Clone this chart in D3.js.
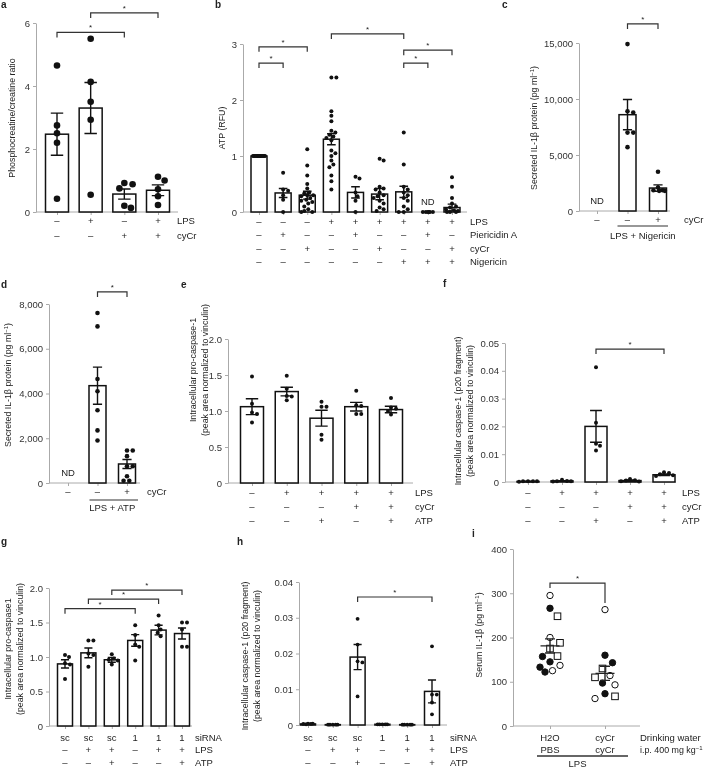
<!DOCTYPE html>
<html>
<head>
<meta charset="utf-8">
<script src="https://cdn.jsdelivr.net/npm/d3@7"></script>
<style>
  body { margin: 0; background: #fff; }
  #fig { filter: grayscale(100%); }
  svg text { font-family: "Liberation Sans", Arial, sans-serif; fill: #222; }
  .axis .domain, .axis line { stroke: #aaa; stroke-width: 1; }
  .axis text { font-size: 9.5px; fill: #333; }
</style>
</head>
<body>
<svg id="fig" width="705" height="771"></svg>
<script>
// ---- panel a : phosphocreatine/creatine ratio
var aMeans = [2.47, 3.3, 0.57, 0.69];
var aSem = [0.67, 0.81, 0.16, 0.17];
var aPoints = [[4.65, 2.75, 2.5, 2.2, 0.42], [5.5, 4.13, 3.5, 2.93, 0.55], [0.92, 0.88, 0.75, 0.2, 0.13], [1.12, 1.0, 0.72, 0.5, 0.22]];
var aSig = [[0, 2, 5.7], [1, 3, 6.32]];
var aTicks = [0, 2, 4, 6];
var aRowLabels = ["LPS", "cyCr"];
var aRowSigns = [["–", "+", "–", "+"], ["–", "–", "+", "+"]];

// ---- panel b : ATP (RFU)
var bMeans = [1.0, 0.34, 0.3, 1.3, 0.35, 0.32, 0.36, 0, 0.08];
var bSem = [0, 0.08, 0.07, 0.1, 0.1, 0.1, 0.1, 0, 0.06];
var bPoints = [
  [1, 1, 1, 1, 1, 1, 1, 1, 1, 1, 1, 1, 1, 1, 1, 1, 1, 1, 1, 1],
  [0.7, 0.4, 0.38, 0.3, 0.22, 0.0],
  [1.12, 0.83, 0.65, 0.5, 0.42, 0.35, 0.33, 0.3, 0.3, 0.28, 0.25, 0.22, 0.2, 0.18, 0.15, 0.1, 0.05, 0.02, 0.0, 0.0],
  [2.4, 2.4, 1.8, 1.72, 1.62, 1.45, 1.42, 1.38, 1.35, 1.32, 1.28, 1.1, 1.05, 1.0, 0.92, 0.85, 0.8, 0.65, 0.55, 0.4],
  [0.63, 0.6, 0.35, 0.28, 0.2, 0.0],
  [0.95, 0.92, 0.45, 0.42, 0.4, 0.35, 0.3, 0.28, 0.25, 0.2, 0.15, 0.08, 0.05, 0.02],
  [1.42, 0.85, 0.45, 0.4, 0.35, 0.3, 0.25, 0.2, 0.1, 0.05, 0.0, 0.0],
  [0, 0, 0, 0, 0, 0],
  [0.62, 0.45, 0.25, 0.15, 0.1, 0.08, 0.05, 0.03, 0.02, 0, 0, 0]
];
var bSig = [[0, 2, 2.95], [0, 1, 2.66], [3, 6, 3.18], [6, 8, 2.89], [6, 7, 2.66]];
var bTicks = [0, 1, 2, 3];
var bRowLabels = ["LPS", "Piericidin A", "cyCr", "Nigericin"];
var bRowSigns = [
  ["–", "–", "–", "+", "+", "+", "+", "+", "+"],
  ["–", "+", "–", "–", "+", "–", "–", "+", "–"],
  ["–", "–", "+", "–", "–", "+", "–", "–", "+"],
  ["–", "–", "–", "–", "–", "–", "+", "+", "+"]
];

// ---- panel c : secreted IL-1b, LPS + nigericin
var cMeans = [null, 8600, 2050];
var cSem = [0, 1350, 280];
var cPoints = [[], [14900, 8900, 8800, 7000, 7000, 5700], [3500, 2100, 1850, 1850, 1800, 1800]];
var cSig = [[1, 2, 16700]];
var cTicks = [0, 5000, 10000, 15000];
var cRowLabels = ["cyCr"];
var cRowSigns = [["–", "–", "+"]];

// ---- panel d : secreted IL-1b, LPS + ATP
var dMeans = [null, 4350, 850];
var dSem = [0, 830, 200];
var dPoints = [[], [7600, 7000, 4650, 4100, 3250, 2350, 1900], [1450, 1450, 1200, 750, 750, 300, 100, 100]];
var dSig = [[1, 2, 8540]];
var dTicks = [0, 2000, 4000, 6000, 8000];
var dRowLabels = ["cyCr"];
var dRowSigns = [["–", "–", "+"]];

// ---- panel e : pro-caspase-1
var eMeans = [1.06, 1.27, 0.9, 1.06, 1.02];
var eSem = [0.11, 0.06, 0.11, 0.06, 0.045];
var ePoints = [[1.48, 1.1, 0.98, 0.96, 0.84], [1.49, 1.31, 1.21, 1.2, 1.15], [1.13, 1.06, 1.06, 0.67, 0.6], [1.28, 1.08, 1.07, 0.96, 0.96], [1.18, 1.05, 1.03, 1.0, 0.95]];
var eTicks = [0, 0.5, 1.0, 1.5, 2.0];
var eRowLabels = ["LPS", "cyCr", "ATP"];
var eRowSigns = [["–", "+", "+", "+", "+"], ["–", "–", "–", "+", "+"], ["–", "–", "+", "–", "+"]];

// ---- panel f : caspase-1 p20
var fMeans = [0.0002, 0.0004, 0.02, 0.0005, 0.0026];
var fSem = [0.0001, 0.0001, 0.0057, 0.0002, 0.0003];
var fPoints = [[0.0003, 0.0003, 0.0003, 0.0003, 0.0001], [0.0008, 0.0004, 0.0003, 0.0003, 0.0002], [0.0413, 0.0213, 0.0138, 0.013, 0.0113], [0.0011, 0.0006, 0.0005, 0.0003, 0.0002], [0.0035, 0.0032, 0.0028, 0.0024, 0.0022]];
var fSig = [[2, 4, 0.0478]];
var fTicks = [0, 0.01, 0.02, 0.03, 0.04, 0.05];

// ---- panel g : pro-caspase1 with siRNA
var gMeans = [0.9, 1.06, 0.96, 1.24, 1.39, 1.34];
var gSem = [0.06, 0.07, 0.035, 0.085, 0.07, 0.08];
var gPoints = [[1.03, 1.0, 0.91, 0.89, 0.68], [1.24, 1.24, 1.05, 1.03, 0.86], [1.04, 0.98, 0.96, 0.95, 0.89], [1.46, 1.32, 1.18, 1.15, 0.95], [1.6, 1.46, 1.4, 1.35, 1.3], [1.5, 1.5, 1.4, 1.15, 1.15]];
var gSig = [[0, 3, 1.7], [1, 4, 1.84], [2, 5, 1.97]];
var gTicks = [0, 0.5, 1.0, 1.5, 2.0];
var siRowLabels = ["siRNA", "LPS", "ATP"];
var siRowSigns = [["sc", "sc", "sc", "1", "1", "1"], ["–", "+", "+", "–", "+", "+"], ["–", "–", "+", "–", "–", "+"]];

// ---- panel h : caspase-1 p20 with siRNA
var hMeans = [0.0003, 0.0001, 0.019, 0.0002, 0.0001, 0.0094];
var hSem = [0.0001, 0, 0.0035, 0, 0, 0.0032];
var hPoints = [[0.0004, 0.0004, 0.0003, 0.0003, 0.0002], [0.0001, 0.0001, 0.0001, 0.0001, 0.0001], [0.0297, 0.0225, 0.0178, 0.0175, 0.008], [0.0002, 0.0002, 0.0002, 0.0002, 0.0002], [0.0001, 0.0001, 0.0001, 0.0001, 0.0001], [0.022, 0.0085, 0.0085, 0.0063, 0.003]];
var hSig = [[2, 5, 0.0358]];
var hTicks = [0, 0.01, 0.02, 0.03, 0.04];

// ---- panel i : serum IL-1b in mice
var iGroups = ["H2O", "cyCr"];
var iRoute = ["PBS", "cyCr"];
var iMeans = [181, 119];
var iSem = [16, 16];
var iOpen = [[295, 200, 137, 125], [263, 114, 93, 62]];
var iFilled = [[266, 157, 145, 133, 122], [160, 143, 97, 73]];
var iSquare = [[248, 188, 175, 158], [130, 110, 67]];
var iTicks = [0, 100, 200, 300, 400];

var FS = 9.5;
var svg = d3.select("#fig");
var fmtInt = d3.format("d"),
  fmtComma = d3.format(","),
  fmt1 = function(v) { return v === 0 ? "0" : d3.format(".1f")(v); },
  fmt2 = function(v) { return v === 0 ? "0" : d3.format(".2f")(v); };

// simple beeswarm: spread points sideways so they don't overlap (within lim)
function swarm(vals, y, r, lim) {
  var placed = [];
  return vals.map(function(v) {
    var py = y(v), best = 0, bestD = -1;
    var cands = [0];
    for (var s = r * 0.5; s <= lim + 0.01; s += r * 0.5) cands.push(s, -s);
    for (var k = 0; k < cands.length; k++) {
      var dmin = Infinity;
      placed.forEach(function(q) {
        var d = Math.hypot(q[0] - cands[k], q[1] - py);
        if (d < dmin) dmin = d;
      });
      if (dmin >= 2 * r + 0.3) { best = cands[k]; break; }
      if (dmin > bestD) { bestD = dmin; best = cands[k]; }
    }
    placed.push([best, py]);
    return [best, py];
  });
}

function yLabel(g, lines, x, y) {
  var t = g.append("text")
    .attr("transform", "translate(" + x + "," + y + ") rotate(-90)")
    .attr("text-anchor", "middle")
    .attr("font-size", 8.8).attr("fill", "#222");
  lines.forEach(function(l, i) {
    var tl = t.append("tspan").attr("x", 0).attr("dy", i === 0 ? "0.35em" : 11.5);
    if (typeof l === "string") tl.text(l);
    else {
      // [before, superscript, after]
      tl.text(l[0]);
      t.append("tspan").attr("font-size", 6).attr("dy", -3.5).text(l[1]);
      t.append("tspan").attr("dy", 3.5).text(l[2]);
    }
  });
}

function letter(t, x, y) {
  svg.append("text").attr("x", x).attr("y", y).attr("fill", "#111")
    .attr("font-size", 10).attr("font-weight", "bold").text(t);
}

function brackets(g, x, y, sig) {
  (sig || []).forEach(function(s) {
    var yy = y(s[2]), l1 = s[3] || 5, l2 = s[4] || 5;
    g.append("path")
      .attr("d", "M" + x(s[0]) + "," + (yy + l1) + "V" + yy + "H" + x(s[1]) + "V" + (yy + l2))
      .attr("fill", "none").attr("stroke", "#333").attr("stroke-width", 1.2);
    g.append("text").attr("x", (x(s[0]) + x(s[1])) / 2).attr("y", yy - 2)
      .attr("text-anchor", "middle").attr("font-size", 8).attr("fill", "#222").text("*");
  });
}

function rows(g, x, labels, signs, rowY, labelX) {
  labels.forEach(function(lab, k) {
    signs[k].forEach(function(s, i) {
      g.append("text").attr("x", x(i)).attr("y", rowY[k]).attr("dy", "0.35em")
        .attr("text-anchor", "middle").attr("font-size", FS).attr("fill", "#222").text(s);
    });
    if (lab) g.append("text").attr("x", labelX).attr("y", rowY[k]).attr("dy", "0.35em")
      .attr("font-size", FS).attr("fill", "#222").text(lab);
  });
}

function axes(g, x, y, p) {
  g.append("g").attr("class", "axis")
    .attr("transform", "translate(" + p.ax + ",0)")
    .call(d3.axisLeft(y).tickValues(p.ticks).tickFormat(p.fmt).tickSize(3).tickSizeOuter(0).tickPadding(3));
  var xg = g.append("g").attr("class", "axis")
    .attr("transform", "translate(0," + p.py[0] + ")")
    .call(d3.axisBottom(x).tickSize(3).tickSizeOuter(0).tickFormat(""));
  xg.select(".domain").attr("d", "M" + p.ax + ",0H" + p.axEnd);
}

function drawPanel(p) {
  var g = svg.append("g");
  var n = p.means.length;
  var x = d3.scalePoint().domain(d3.range(n)).range(p.cx);
  var y = d3.scaleLinear().domain([0, p.yMax]).range(p.py);
  axes(g, x, y, p);

  p.means.forEach(function(m, i) {
    if (m === null || m <= 0) return;
    g.append("rect")
      .attr("x", x(i) - p.bw / 2).attr("y", y(m))
      .attr("width", p.bw).attr("height", y(0) - y(m))
      .attr("fill", "#fff").attr("stroke", "#111").attr("stroke-width", 1.5);
  });

  p.pts.forEach(function(vals, i) {
    var pos = swarm(vals, y, p.r, p.bw / 2 - p.r * 0.6);
    g.selectAll(null).data(pos).enter().append("circle")
      .attr("cx", function(d) { return x(i) + d[0]; })
      .attr("cy", function(d) { return d[1]; })
      .attr("r", p.r).attr("fill", "#111");
  });

  p.means.forEach(function(m, i) {
    if (m === null || !p.sem[i]) return;
    var cw = p.bw * 0.27, lo = y(m - p.sem[i]), hi = y(m + p.sem[i]);
    g.append("path")
      .attr("d", "M" + x(i) + "," + lo + "V" + hi +
        "M" + (x(i) - cw) + "," + hi + "H" + (x(i) + cw) +
        "M" + (x(i) - cw) + "," + lo + "H" + (x(i) + cw))
      .attr("stroke", "#111").attr("stroke-width", 1.4).attr("fill", "none");
  });

  (p.nd || []).forEach(function(i) {
    g.append("text").attr("x", x(i)).attr("y", y(0) - 7)
      .attr("text-anchor", "middle").attr("font-size", FS).attr("fill", "#222").text("ND");
  });

  brackets(g, x, y, p.sig);
  rows(g, x, p.rowLabels, p.rowSigns, p.rowY, p.rowLX);
  yLabel(g, p.yl, p.ylx, p.yly);
  letter(p.letter, p.lx, p.ly);
  return { g: g, x: x, y: y };
}

var ilLabel = [["Secreted IL-1β protein (pg ml", "−1", ")"]];

drawPanel({ letter: "a", lx: 1, ly: 8, ax: 36, axEnd: 178, cx: [57, 158], py: [212, 23], yMax: 6,
  ticks: aTicks, fmt: fmtInt, bw: 23, r: 3.3, means: aMeans, sem: aSem, pts: aPoints, sig: aSig,
  rowLabels: aRowLabels, rowSigns: aRowSigns, rowY: [221, 236], rowLX: 177,
  yl: ["Phosphocreatine/creatine ratio"], ylx: 12, yly: 118 });

drawPanel({ letter: "b", lx: 215, ly: 8, ax: 243, axEnd: 467, cx: [259, 452], py: [212, 44], yMax: 3,
  ticks: bTicks, fmt: fmtInt, bw: 16, r: 2, means: bMeans, sem: bSem, pts: bPoints, sig: bSig, nd: [7],
  rowLabels: bRowLabels, rowSigns: bRowSigns, rowY: [222, 235, 249, 262], rowLX: 470,
  yl: ["ATP (RFU)"], ylx: 222, yly: 128 });

var pc = drawPanel({ letter: "c", lx: 502, ly: 8, ax: 579, axEnd: 670, cx: [597, 658], py: [211, 43], yMax: 15000,
  ticks: cTicks, fmt: fmtComma, bw: 17, r: 2.3, means: cMeans, sem: cSem, pts: cPoints, sig: cSig, nd: [0],
  rowLabels: cRowLabels, rowSigns: cRowSigns, rowY: [220], rowLX: 684,
  yl: ilLabel, ylx: 534, yly: 128 });
pc.g.append("line").attr("x1", pc.x(1) - 10).attr("x2", pc.x(2) + 10).attr("y1", 226).attr("y2", 226)
  .attr("stroke", "#333").attr("stroke-width", 1.2);
pc.g.append("text").attr("x", (pc.x(1) + pc.x(2)) / 2).attr("y", 236).attr("dy", "0.35em")
  .attr("text-anchor", "middle").attr("font-size", FS).attr("fill", "#222").text("LPS + Nigericin");

var pd = drawPanel({ letter: "d", lx: 1, ly: 288, ax: 49, axEnd: 140, cx: [68, 127], py: [483, 304], yMax: 8000,
  ticks: dTicks, fmt: fmtComma, bw: 17, r: 2.3, means: dMeans, sem: dSem, pts: dPoints, sig: dSig, nd: [0],
  rowLabels: dRowLabels, rowSigns: dRowSigns, rowY: [492], rowLX: 147,
  yl: ilLabel, ylx: 8, yly: 385 });
pd.g.append("line").attr("x1", pd.x(1) - 8).attr("x2", pd.x(2) + 11).attr("y1", 500).attr("y2", 500)
  .attr("stroke", "#333").attr("stroke-width", 1.2);
pd.g.append("text").attr("x", (pd.x(1) + pd.x(2)) / 2).attr("y", 508).attr("dy", "0.35em")
  .attr("text-anchor", "middle").attr("font-size", FS).attr("fill", "#222").text("LPS + ATP");

drawPanel({ letter: "e", lx: 181, ly: 288, ax: 228, axEnd: 413, cx: [252, 391], py: [483, 339], yMax: 2,
  ticks: eTicks, fmt: fmt1, bw: 23, r: 2, means: eMeans, sem: eSem, pts: ePoints,
  rowLabels: eRowLabels, rowSigns: eRowSigns, rowY: [493, 507, 521], rowLX: 415,
  yl: ["Intracellular pro-caspase-1", "(peak area normalized to vinculin)"], ylx: 193, yly: 370 });

drawPanel({ letter: "f", lx: 443, ly: 287, ax: 505, axEnd: 676, cx: [528, 664], py: [482, 343], yMax: 0.05,
  ticks: fTicks, fmt: fmt2, bw: 22, r: 2, means: fMeans, sem: fSem, pts: fPoints, sig: fSig,
  rowLabels: eRowLabels, rowSigns: eRowSigns, rowY: [493, 507, 521], rowLX: 682,
  yl: ["Intracellular caspase-1 (p20 fragment)", "(peak area normalized to vinculin)"], ylx: 458, yly: 411 });

drawPanel({ letter: "g", lx: 1, ly: 545, ax: 49, axEnd: 192, cx: [65, 182], py: [726, 588], yMax: 2,
  ticks: gTicks, fmt: fmt1, bw: 15, r: 2, means: gMeans, sem: gSem, pts: gPoints, sig: gSig,
  rowLabels: siRowLabels, rowSigns: siRowSigns, rowY: [738, 750, 763], rowLX: 195,
  yl: ["Intracellular pro-caspase1", "(peak area normalized to vinculin)"], ylx: 8, yly: 649 });

drawPanel({ letter: "h", lx: 237, ly: 545, ax: 299, axEnd: 447, cx: [308, 432], py: [725, 582], yMax: 0.04,
  ticks: hTicks, fmt: fmt2, bw: 15, r: 1.9, means: hMeans, sem: hSem, pts: hPoints, sig: hSig,
  rowLabels: siRowLabels, rowSigns: siRowSigns, rowY: [738, 750, 763], rowLX: 450,
  yl: ["Intracellular caspase-1 (p20 fragment)", "(peak area normalized to vinculin)"], ylx: 245, yly: 656 });

// ---- panel i : scatter with mean ± s.e.m.
(function() {
  var p = { ax: 513, axEnd: 640, py: [726, 549], ticks: iTicks, fmt: fmtInt };
  var g = svg.append("g");
  var x = d3.scalePoint().domain(d3.range(iGroups.length)).range([550, 605]);
  var y = d3.scaleLinear().domain([0, 400]).range(p.py);
  axes(g, x, y, p);
  var r = 3.2;
  iGroups.forEach(function(grp, i) {
    var all = [];
    iOpen[i].forEach(function(v) { all.push({ v: v, s: "open" }); });
    iFilled[i].forEach(function(v) { all.push({ v: v, s: "filled" }); });
    iSquare[i].forEach(function(v) { all.push({ v: v, s: "square" }); });
    all.sort(function(a, b) { return b.v - a.v; });
    var pos = swarm(all.map(function(d) { return d.v; }), y, 5, 12);
    all.forEach(function(d, k) {
      var cx = x(i) + pos[k][0], cy = pos[k][1];
      if (d.s === "square") {
        g.append("rect").attr("x", cx - 3.3).attr("y", cy - 3.3).attr("width", 6.6).attr("height", 6.6)
          .attr("fill", "#fff").attr("stroke", "#111").attr("stroke-width", 1);
      } else {
        g.append("circle").attr("cx", cx).attr("cy", cy).attr("r", r)
          .attr("fill", d.s === "filled" ? "#111" : "#fff").attr("stroke", "#111").attr("stroke-width", 1);
      }
    });
    var m = iMeans[i], lo = y(m - iSem[i]), hi = y(m + iSem[i]), cx0 = x(i);
    g.append("path")
      .attr("d", "M" + (cx0 - 9.5) + "," + y(m) + "H" + (cx0 + 9.5) +
        "M" + cx0 + "," + lo + "V" + hi +
        "M" + (cx0 - 5) + "," + hi + "H" + (cx0 + 5) +
        "M" + (cx0 - 5) + "," + lo + "H" + (cx0 + 5))
      .attr("stroke", "#222").attr("stroke-width", 1.4).attr("fill", "none");
  });
  brackets(g, x, y, [[0, 1, 323, 5, 20]]);
  rows(g, x, ["Drinking water", ""], [iGroups, iRoute], [738, 750], 640);
  // i.p. dose row label with superscript
  var t = g.append("text").attr("x", 640).attr("y", 750).attr("dy", "0.35em").attr("font-size", 8.9).attr("fill", "#222");
  t.append("tspan").text("i.p. 400 mg kg");
  t.append("tspan").attr("font-size", 6).attr("dy", -3.5).text("−1");
  g.append("line").attr("x1", 537).attr("x2", 628).attr("y1", 756).attr("y2", 756)
    .attr("stroke", "#333").attr("stroke-width", 1.6);
  g.append("text").attr("x", (x(0) + x(1)) / 2).attr("y", 764).attr("dy", "0.35em")
    .attr("text-anchor", "middle").attr("font-size", FS).attr("fill", "#222").text("LPS");
  yLabel(g, [["Serum IL-1β (pg ml", "−1", ")"]], 479, 635);
  letter("i", 472, 537);
})();
</script>
</body>
</html>
